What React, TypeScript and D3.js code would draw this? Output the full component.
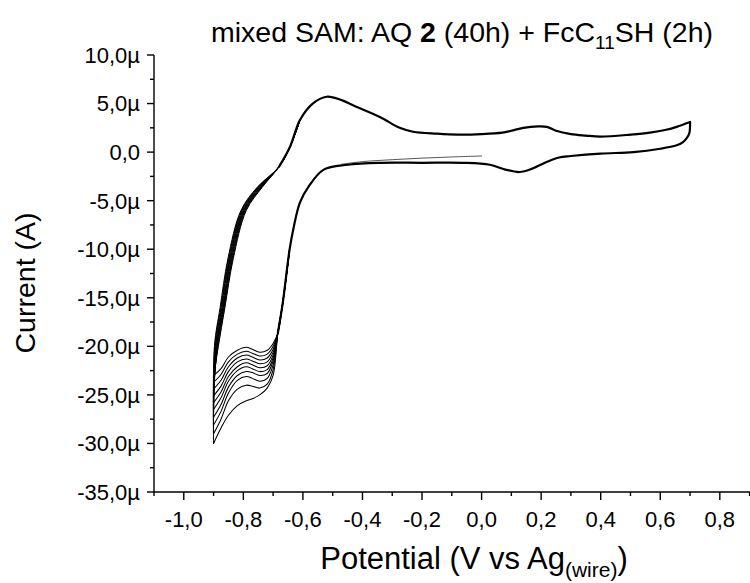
import React from 'react';
import * as d3 from 'd3';

// ---------- data ----------
const X_MAJOR = [-1.0, -0.8, -0.6, -0.4, -0.2, 0.0, 0.2, 0.4, 0.6, 0.8];
const X_LABELS = ['-1,0', '-0,8', '-0,6', '-0,4', '-0,2', '0,0', '0,2', '0,4', '0,6', '0,8'];
const X_MINOR = [-1.1, -0.9, -0.7, -0.5, -0.3, -0.1, 0.1, 0.3, 0.5, 0.7, 0.9];
const Y_MAJOR = [10, 5, 0, -5, -10, -15, -20, -25, -30, -35];
const Y_LABELS = ['10,0µ', '5,0µ', '0,0', '-5,0µ', '-10,0µ', '-15,0µ', '-20,0µ', '-25,0µ', '-30,0µ', '-35,0µ'];
const Y_MINOR = [7.5, 2.5, -2.5, -7.5, -12.5, -17.5, -22.5, -27.5, -32.5];

// common anodic branch (all cycles overlap), potential V / current µA
const ANODIC_V = [-0.68, -0.644, -0.61, -0.567, -0.52, -0.47, -0.43, -0.34, -0.275, -0.23, -0.15, -0.08, 0.0, 0.07, 0.1, 0.14, 0.19, 0.22, 0.25, 0.3, 0.35, 0.4, 0.5, 0.565, 0.62, 0.655, 0.7];
const ANODIC_I = [-1.5, 0.5, 3.3, 5.0, 5.7, 5.35, 4.8, 3.6, 2.5, 2.1, 1.9, 1.8, 1.85, 2.0, 2.2, 2.5, 2.65, 2.6, 2.2, 1.85, 1.7, 1.6, 1.8, 2.0, 2.3, 2.6, 3.1];

// common cathodic branch
const CATHODIC_V = [0.7, 0.698, 0.69, 0.675, 0.655, 0.6, 0.51, 0.4, 0.3, 0.26, 0.22, 0.17, 0.128, 0.08, 0.028, -0.063, -0.2, -0.34, -0.45, -0.53, -0.58, -0.61, -0.63, -0.645, -0.668, -0.684];
const CATHODIC_I = [3.1, 2.0, 1.5, 1.0, 0.7, 0.35, 0.0, -0.15, -0.4, -0.55, -1.0, -1.7, -2.05, -1.8, -1.3, -1.1, -1.1, -1.1, -1.3, -1.8, -3.5, -5.2, -7.6, -10.1, -15.6, -18.6];

// first half sweep starting at 0 V
const FIRST_V = [0.0, -0.1, -0.2, -0.3, -0.4, -0.47];
const FIRST_I = [-0.4, -0.5, -0.62, -0.78, -0.98, -1.25];

// cathodic AQ wave per cycle
const WAVE_V = [-0.7, -0.72, -0.745, -0.77, -0.79, -0.82, -0.85, -0.875, -0.9];
const WAVE_I_C0 = [-19.7, -20.4, -20.6, -20.3, -20.1, -20.4, -21.1, -22.3, -23.0];
const WAVE_I_C1 = [-20.0, -20.8, -21.0, -20.7, -20.5, -20.8, -21.6, -22.9, -23.7];
const WAVE_I_C2 = [-20.3, -21.2, -21.4, -21.1, -20.9, -21.2, -22.1, -23.5, -24.4];
const WAVE_I_C3 = [-20.6, -21.6, -21.8, -21.5, -21.3, -21.6, -22.6, -24.1, -25.1];
const WAVE_I_C4 = [-20.9, -22.0, -22.2, -21.9, -21.7, -22.1, -23.1, -24.7, -25.8];
const WAVE_I_C5 = [-21.2, -22.4, -22.6, -22.3, -22.1, -22.5, -23.6, -25.3, -26.5];
const WAVE_I_C6 = [-21.5, -22.8, -23.0, -22.7, -22.6, -23.0, -24.2, -26.0, -27.3];
const WAVE_I_C7 = [-21.9, -23.3, -23.6, -23.3, -23.1, -23.5, -24.8, -26.7, -28.1];
const WAVE_I_C8 = [-22.4, -23.9, -24.3, -24.1, -24.0, -24.4, -25.6, -27.5, -29.0];
const WAVE_I_C9 = [-23.0, -24.3, -25.0, -25.4, -25.6, -26.1, -27.1, -28.4, -30.0];

// anodic rise per cycle (potential at given current levels)
const RISE_I = [-20, -16, -11, -6, -3.6];
const RISE_V_C0 = [-0.884, -0.862, -0.834, -0.79, -0.736];
const RISE_V_C1 = [-0.885, -0.863, -0.836, -0.792, -0.738];
const RISE_V_C2 = [-0.887, -0.865, -0.838, -0.794, -0.739];
const RISE_V_C3 = [-0.888, -0.867, -0.84, -0.796, -0.741];
const RISE_V_C4 = [-0.89, -0.868, -0.842, -0.798, -0.743];
const RISE_V_C5 = [-0.891, -0.87, -0.844, -0.8, -0.745];
const RISE_V_C6 = [-0.893, -0.872, -0.846, -0.802, -0.747];
const RISE_V_C7 = [-0.894, -0.874, -0.848, -0.804, -0.749];
const RISE_V_C8 = [-0.896, -0.876, -0.85, -0.806, -0.751];
const RISE_V_C9 = [-0.897, -0.878, -0.852, -0.808, -0.753];

const WAVES = [WAVE_I_C0, WAVE_I_C1, WAVE_I_C2, WAVE_I_C3, WAVE_I_C4, WAVE_I_C5, WAVE_I_C6, WAVE_I_C7, WAVE_I_C8, WAVE_I_C9];
const RISES = [RISE_V_C0, RISE_V_C1, RISE_V_C2, RISE_V_C3, RISE_V_C4, RISE_V_C5, RISE_V_C6, RISE_V_C7, RISE_V_C8, RISE_V_C9];

// ---------- chart ----------
const W = 750;
const H = 583;
const FONT = "'Liberation Sans', Arial, Helvetica, sans-serif";

type P = [number, number];
const zip = (vs: number[], is: number[]): P[] => vs.map((v, i) => [v, is[i]]);

export default function App() {
  const x = d3.scaleLinear().domain([-1.1, 0.9]).range([154, 749.6]);
  const y = d3.scaleLinear().domain([-35, 10]).range([492, 55]);
  const line = d3
    .line<P>()
    .x((d) => x(d[0]))
    .y((d) => y(d[1]))
    .curve(d3.curveCatmullRom.alpha(0.5));

  const anodic = zip(ANODIC_V, ANODIC_I);
  const cathodic = zip(CATHODIC_V, CATHODIC_I);
  const first = zip(FIRST_V, FIRST_I);

  const cycles = WAVES.map((w, k) => {
    const endI = w[w.length - 1];
    const wave: P[] = [...cathodic.slice(-3), ...zip(WAVE_V, w)];
    const rise: P[] = [[WAVE_V[WAVE_V.length - 1], endI], ...zip(RISES[k], RISE_I), ...anodic.slice(0, 3)];
    return { wave, rise };
  });

  const x0 = x.range()[0];
  const y0 = y.range()[0];
  const xEnd = x.range()[1];
  const yTop = y.range()[1];

  return (
    <svg
      width={W}
      height={H}
      style={{ position: 'absolute', left: 0, top: 0, background: '#fff' }}
      fontFamily={FONT}
    >
      {/* title */}
      <text x={462} y={42} textAnchor="middle" fontSize={28.5} fill="#000">
        mixed SAM: AQ <tspan fontWeight="bold">2</tspan> (40h) + FcC
        <tspan fontSize={19} dy={7}>11</tspan>
        <tspan dy={-7}>SH (2h)</tspan>
      </text>

      {/* curves */}
      <g fill="none" stroke="#000" strokeLinejoin="round" strokeLinecap="round">
        <path d={line(first) || ''} strokeWidth={0.9} stroke="#444" />
        {cycles.map((c, k) => (
          <g key={k}>
            <path d={line(c.wave) || ''} strokeWidth={1.05} />
            <path d={line(c.rise) || ''} strokeWidth={1.0} />
          </g>
        ))}
        <path d={line(anodic) || ''} strokeWidth={2.2} />
        <path d={line(cathodic) || ''} strokeWidth={2.2} />
      </g>

      {/* axes */}
      <g stroke="#000" strokeWidth={1.4}>
        <line x1={x0} x2={xEnd + 1} y1={y0} y2={y0} />
        <line x1={x0} x2={x0} y1={y0} y2={yTop} />
        {X_MAJOR.map((v) => (
          <line key={'xM' + v} x1={x(v)} x2={x(v)} y1={y0} y2={y0 + 8} />
        ))}
        {X_MINOR.map((v) => (
          <line key={'xm' + v} x1={x(v)} x2={x(v)} y1={y0} y2={y0 + 4} />
        ))}
        {Y_MAJOR.map((v) => (
          <line key={'yM' + v} x1={x0} x2={x0 - 7} y1={y(v)} y2={y(v)} />
        ))}
        {Y_MINOR.map((v) => (
          <line key={'ym' + v} x1={x0} x2={x0 - 4} y1={y(v)} y2={y(v)} />
        ))}
      </g>

      {/* tick labels */}
      <g fontSize={22} fill="#000">
        {X_MAJOR.map((v, i) => (
          <text key={'xl' + v} x={x(v)} y={527} textAnchor="middle">
            {X_LABELS[i]}
          </text>
        ))}
        {Y_MAJOR.map((v, i) => (
          <text key={'yl' + v} x={140} y={y(v)} dy="0.36em" textAnchor="end">
            {Y_LABELS[i]}
          </text>
        ))}
      </g>

      {/* axis titles */}
      <text x={474} y={569} textAnchor="middle" fontSize={31} fill="#000">
        Potential (V vs Ag
        <tspan fontSize={21} dy={8}>(wire)</tspan>
        <tspan dy={-8}>)</tspan>
      </text>
      <text
        transform={`translate(35, 283) rotate(-90)`}
        textAnchor="middle"
        fontSize={28.5}
        fill="#000"
      >
        Current (A)
      </text>
    </svg>
  );
}
